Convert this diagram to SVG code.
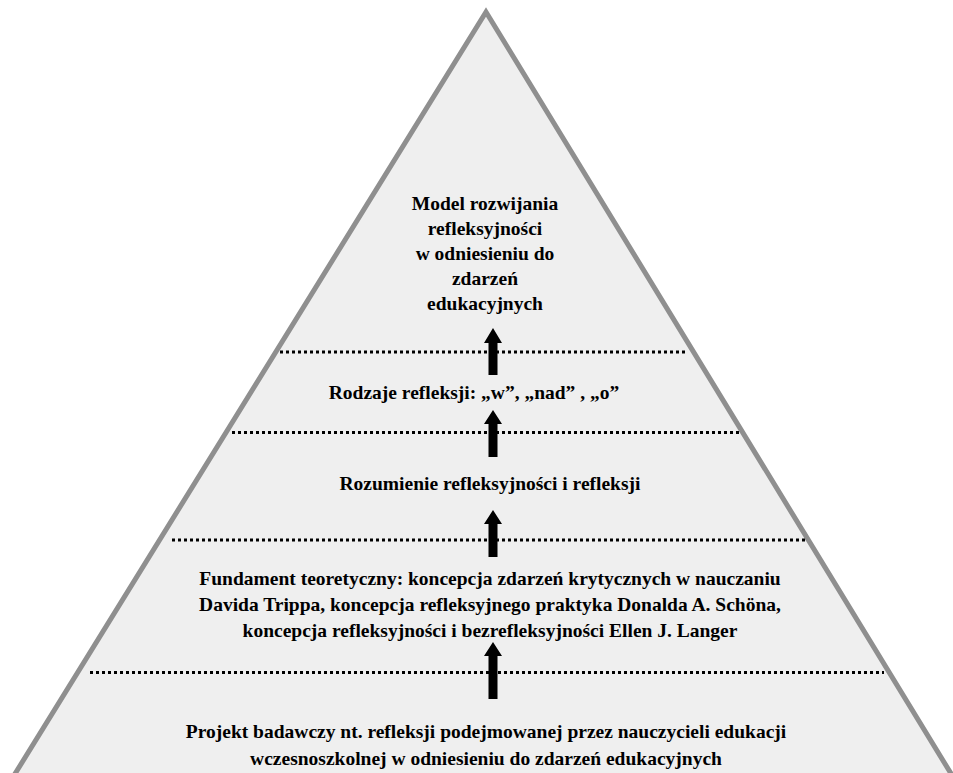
<svg xmlns="http://www.w3.org/2000/svg" width="953" height="773" viewBox="0 0 953 773">
<style>
.lbl{font-family:"Liberation Serif","Times New Roman",serif;font-weight:bold;font-size:19.5px;fill:#000;text-anchor:middle}
.dot{stroke:#000;stroke-width:3;stroke-dasharray:3 3;fill:none}
.arr{fill:#000}
</style>
<rect width="953" height="773" fill="#ffffff"/>
<g id="pyramid">
<polygon points="486,12 961,790 5,790" fill="#efefef" stroke="#8f8f8f" stroke-width="5" stroke-linejoin="miter"/>
</g>
<g id="dividers">
<line class="dot" x1="280" y1="352" x2="688" y2="352"/>
<line class="dot" x1="232" y1="432.5" x2="740" y2="432.5"/>
<line class="dot" x1="172" y1="540" x2="806" y2="540"/>
<line class="dot" x1="90" y1="672.5" x2="884" y2="672.5"/>
</g>
<g id="connectors">
<polygon class="arr" points="493,328 502,343 497.5,343 497.5,375 488.5,375 488.5,343 484,343"/>
<polygon class="arr" points="493,410 502,424 497.5,424 497.5,457 488.5,457 488.5,424 484,424"/>
<polygon class="arr" points="493,510 502,524 497.5,524 497.5,557 488.5,557 488.5,524 484,524"/>
<polygon class="arr" points="493,642 502,656 497.5,656 497.5,699 488.5,699 488.5,656 484,656"/>
</g>
<g id="node-model">
<text class="lbl" x="485" y="209.5">Model rozwijania</text>
<text class="lbl" x="485" y="234.5">refleksyjności</text>
<text class="lbl" x="485" y="259.5">w odniesieniu do</text>
<text class="lbl" x="485" y="284.5">zdarzeń</text>
<text class="lbl" x="485" y="309.5">edukacyjnych</text>
</g>
<g id="node-rodzaje">
<text class="lbl" x="474" y="399">Rodzaje refleksji: „w”, „nad” , „o”</text>
</g>
<g id="node-rozumienie">
<text class="lbl" x="490" y="490">Rozumienie refleksyjności i refleksji</text>
</g>
<g id="node-fundament">
<text class="lbl" x="490" y="585">Fundament teoretyczny: koncepcja zdarzeń krytycznych w nauczaniu</text>
<text class="lbl" x="490" y="611">Davida Trippa, koncepcja refleksyjnego praktyka Donalda A. Schöna,</text>
<text class="lbl" x="490" y="637">koncepcja refleksyjności i bezrefleksyjności Ellen J. Langer</text>
</g>
<g id="node-projekt">
<text class="lbl" x="486" y="738">Projekt badawczy nt. refleksji podejmowanej przez nauczycieli edukacji</text>
<text class="lbl" x="486" y="765">wczesnoszkolnej w odniesieniu do zdarzeń edukacyjnych</text>
</g>
</svg>
